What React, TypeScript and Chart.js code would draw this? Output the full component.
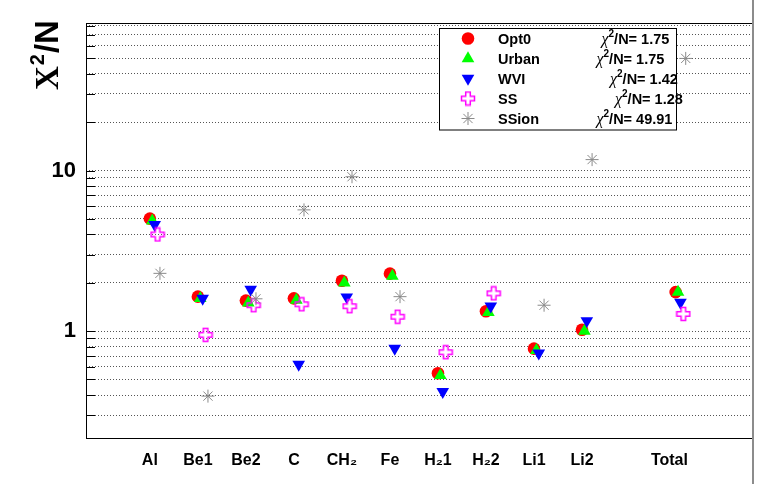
import React, { useEffect, useRef } from 'react';
import { Chart, registerables } from 'chart.js';
import { drawPoint } from 'chart.js/helpers';

Chart.register(...registerables);

// ---------- data ----------
const categories = ['Al', 'Be1', 'Be2', 'C', 'CH₂', 'Fe', 'H₂1', 'H₂2', 'Li1', 'Li2', 'Total'];
const categoryPos = [0, 1, 2, 3, 4, 5, 6, 7, 8, 9, 10.95];
const labelPos = [0, 1, 2, 3, 4, 5, 6, 7, 8, 9, 10.82];

const opt0 = [5.02, 1.64, 1.55, 1.6, 2.06, 2.28, 0.547, 1.33, 0.778, 1.02, 1.75];
const urban = [4.86, 1.6, 1.5, 1.56, 2.0, 2.2, 0.53, 1.31, 0.76, 1.0, 1.75];
const wvi = [4.6, 1.6, 1.82, 0.62, 1.63, 0.78, 0.42, 1.43, 0.73, 1.16, 1.51];
const ss = [4.0, 0.948, 1.45, 1.47, 1.43, 1.23, 0.739, 1.72, null, null, 1.28];
const ssion = [2.29, 0.394, 1.59, 5.69, 9.15, 1.64, null, null, 1.45, 11.7, 49.91];

const seriesNames = ['Opt0', 'Urban', 'WVI', 'SS', 'SSion'];
const chi2PerN = ['1.75', '1.75', '1.42', '1.28', '49.91'];

const yTickValues = [0.3, 0.4, 0.5, 0.6, 0.7, 0.8, 0.9, 1, 2, 3, 4, 5, 6, 7, 8, 9, 10, 20, 30, 40, 50, 60, 70, 80];
const yMin = 0.2161;
const yMax = 82.7;

// ---------- styles ----------
const seriesOffsets = [0, 0.05, 0.1, 0.16, 0.21];
const seriesColors = ['#ff0000', '#00ff00', '#0000ff', '#ff00ff', '#8a8a8a'];
const SANS = '"Liberation Sans", Arial, Helvetica, sans-serif';
const SERIF = '"Liberation Serif", "Times New Roman", serif';

function makeOpenCross(): HTMLCanvasElement {
  const c = document.createElement('canvas');
  c.width = 16;
  c.height = 16;
  const g = c.getContext('2d')!;
  const cx = 8, cy = 8, a = 2.3, e = 6.5;
  g.strokeStyle = '#ff00ff';
  g.lineWidth = 1.5;
  g.beginPath();
  const pts = [
    [-a, -e], [a, -e], [a, -a], [e, -a], [e, a], [a, a],
    [a, e], [-a, e], [-a, a], [-e, a], [-e, -a], [-a, -a],
  ];
  pts.forEach(([px, py], i) => {
    if (i === 0) g.moveTo(cx + px, cy + py);
    else g.lineTo(cx + px, cy + py);
  });
  g.closePath();
  g.stroke();
  return c;
}

export default function App() {
  const ref = useRef<HTMLCanvasElement | null>(null);

  useEffect(() => {
    const canvas = ref.current;
    if (!canvas) return;
    const cross = makeOpenCross();

    const markerStyles: any[] = [
      { pointStyle: 'circle', radius: 6.3, rotation: 0, borderWidth: 0 },
      { pointStyle: 'triangle', radius: 7.3, rotation: 0, borderWidth: 0 },
      { pointStyle: 'triangle', radius: 7.3, rotation: 180, borderWidth: 0 },
      { pointStyle: cross, radius: 7, rotation: 0, borderWidth: 0 },
      { pointStyle: 'star', radius: 6.5, rotation: 0, borderWidth: 1 },
    ];

    const allSeries = [opt0, urban, wvi, ss, ssion];
    const datasets = allSeries.map((vals, s) => ({
      label: seriesNames[s],
      data: vals
        .map((v, i) => (v == null ? null : { x: categoryPos[i] + seriesOffsets[s], y: v }))
        .filter((p) => p !== null),
      pointStyle: markerStyles[s].pointStyle,
      pointRadius: markerStyles[s].radius,
      pointRotation: markerStyles[s].rotation,
      pointBorderWidth: markerStyles[s].borderWidth,
      backgroundColor: seriesColors[s],
      borderColor: seriesColors[s],
      showLine: false,
      order: 5 - s,
      clip: 0,
    }));

    const framePlugin = {
      id: 'rootFrame',
      afterDraw(chart: any) {
        const { ctx, chartArea } = chart;
        const { left, top, right, bottom } = chartArea;
        const yScale = chart.scales.y;
        ctx.save();
        // tick marks on left axis
        ctx.strokeStyle = '#000';
        ctx.lineWidth = 1;
        yTickValues.forEach((v) => {
          const py = Math.round(yScale.getPixelForValue(v)) + 0.5;
          ctx.beginPath();
          ctx.moveTo(left, py);
          ctx.lineTo(left + 9, py);
          ctx.stroke();
        });
        // frame
        ctx.strokeRect(Math.round(left) + 0.5, Math.round(top) + 0.5, Math.round(right - left), Math.round(bottom - top));
        // canvas right edge
        ctx.fillStyle = '#8c8c8c';
        ctx.fillRect(752, 0, 2, 484);

        // y title  Χ²/N
        ctx.save();
        ctx.translate(58, 90);
        ctx.rotate(-Math.PI / 2);
        ctx.fillStyle = '#000';
        ctx.textBaseline = 'alphabetic';
        ctx.textAlign = 'left';
        let tx = 0;
        ctx.font = `bold 33px ${SERIF}`;
        ctx.fillText('Χ', tx, 0);
        tx += ctx.measureText('Χ').width + 1;
        ctx.font = `bold 20px ${SANS}`;
        ctx.fillText('2', tx, -14);
        tx += ctx.measureText('2').width + 1;
        ctx.font = `bold 33px ${SANS}`;
        ctx.fillText('/N', tx, 0);
        ctx.restore();

        // legend
        const lx = 439.5, ly = 28.5, lw = 237, lh = 101.5;
        ctx.fillStyle = '#fff';
        ctx.fillRect(lx, ly, lw, lh);
        ctx.strokeStyle = '#000';
        ctx.lineWidth = 1;
        ctx.strokeRect(lx, ly, lw, lh);
        const chiX = [601.5, 596.5, 610, 615, 596.5];
        seriesNames.forEach((name, i) => {
          const cy = 38.5 + i * 20;
          ctx.fillStyle = seriesColors[i];
          ctx.strokeStyle = seriesColors[i];
          ctx.lineWidth = 1;
          drawPoint(ctx, markerStyles[i], 468, cy);
          ctx.fillStyle = '#000';
          ctx.textBaseline = 'alphabetic';
          ctx.textAlign = 'left';
          ctx.font = `bold 14.5px ${SANS}`;
          ctx.fillText(name, 498, cy + 5.5);
          let x = chiX[i];
          ctx.font = `italic 16px ${SERIF}`;
          ctx.fillText('χ', x, cy + 5.5);
          x += ctx.measureText('χ').width;
          ctx.font = `bold 10px ${SANS}`;
          ctx.fillText('2', x, cy - 1.5);
          x += ctx.measureText('2').width;
          ctx.font = `bold 14.5px ${SANS}`;
          ctx.fillText('/N= ' + chi2PerN[i], x, cy + 5.5);
        });
        ctx.restore();
      },
    };

    const chart = new Chart(canvas, {
      type: 'scatter',
      data: { datasets: datasets as any },
      options: {
        animation: false,
        responsive: false,
        devicePixelRatio: 1,
        layout: { padding: { left: 0, top: 16, right: 6, bottom: 0 } },
        plugins: {
          legend: { display: false },
          tooltip: { enabled: false },
          title: { display: false },
        },
        scales: {
          x: {
            type: 'linear',
            min: -1.33,
            max: 12.53,
            grid: { display: false, drawTicks: false },
            border: { display: false },
            afterFit: (scale: any) => {
              scale.height = 46;
            },
            afterBuildTicks: (scale: any) => {
              scale.ticks = labelPos.map((v) => ({ value: v }));
            },
            ticks: {
              autoSkip: false,
              maxRotation: 0,
              minRotation: 0,
              padding: 13,
              color: '#000',
              font: { family: SANS, size: 16, weight: 'bold' },
              callback: (_v: any, i: number) => categories[i],
            },
          },
          y: {
            type: 'logarithmic',
            min: yMin,
            max: yMax,
            grid: { display: true, drawTicks: false, color: '#555', lineWidth: 1 },
            border: { display: false, dash: [1, 2] },
            afterFit: (scale: any) => {
              scale.width = 86;
            },
            afterBuildTicks: (scale: any) => {
              scale.ticks = yTickValues.map((v) => ({ value: v }));
            },
            ticks: {
              autoSkip: false,
              padding: 10,
              color: '#000',
              font: { family: SANS, size: 22, weight: 'bold' },
              callback: (v: any) => (v === 1 ? '1' : v === 10 ? '10' : ''),
            },
          },
        },
      } as any,
      plugins: [framePlugin],
    });

    return () => {
      chart.destroy();
    };
  }, []);

  return (
    <div style={{ position: 'fixed', left: 0, top: 0, width: 759, height: 484, background: '#fff' }}>
      <canvas ref={ref} width={759} height={484} style={{ display: 'block', width: 759, height: 484 }} />
    </div>
  );
}
